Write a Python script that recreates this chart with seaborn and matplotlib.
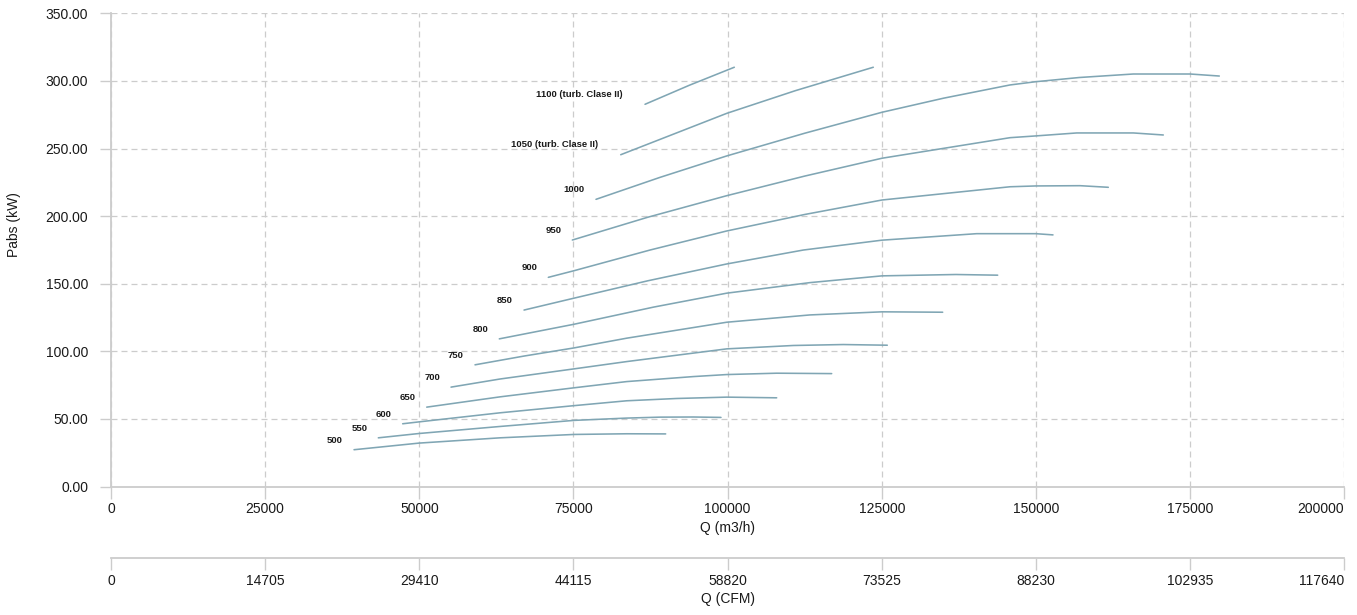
import numpy as np
import pandas as pd
import matplotlib
matplotlib.use("Agg")
import matplotlib.pyplot as plt
import seaborn as sns

sns.set_theme(style="white")
plt.rcParams["font.family"] = ["Liberation Sans", "DejaVu Sans"]
plt.rcParams["lines.scale_dashes"] = False

# ---------------- data (Q in m3/h, Pabs in kW) ----------------
curve_labels = ["500", "550", "600", "650", "700", "750", "800", "850", "900",
                "950", "1000", "1050 (turb. Clase II)", "1100 (turb. Clase II)"]

q_500 = [39410, 49950, 63080, 75080, 83630, 89950]
p_500 = [27.2, 32.1, 36.0, 38.5, 39.0, 38.9]

q_550 = [43350, 49950, 63080, 75080, 83630, 89030, 94430, 98920]
p_550 = [36.0, 39.2, 44.4, 48.9, 50.6, 51.3, 51.4, 51.1]

q_600 = [47300, 49950, 63080, 75080, 83630, 91740, 99850, 107950]
p_600 = [46.4, 47.8, 54.5, 59.8, 63.4, 65.1, 66.1, 65.6]

q_650 = [51200, 63080, 75080, 83630, 94430, 99850, 107950, 116870]
p_650 = [58.7, 66.3, 73.0, 77.6, 81.3, 82.8, 83.8, 83.5]

q_700 = [55140, 63080, 75080, 83630, 99850, 110650, 118750, 125890]
p_700 = [73.5, 79.5, 87.0, 92.4, 101.8, 104.3, 105.0, 104.5]

q_750 = [59030, 67000, 75080, 83630, 99850, 113350, 125030, 134870]
p_750 = [90.0, 96.5, 102.5, 109.7, 121.5, 126.9, 129.2, 128.9]

q_800 = [62970, 75080, 88000, 99850, 113350, 125030, 137000, 143790]
p_800 = [109.2, 120.0, 132.7, 143.0, 150.8, 155.8, 156.8, 156.3]

q_850 = [66980, 75080, 87000, 99850, 112270, 125030, 140380, 149960, 152760]
p_850 = [130.5, 139.3, 152.1, 164.6, 174.9, 182.2, 187.0, 187.0, 186.1]

q_900 = [70920, 75080, 87410, 99850, 112500, 125030, 145790, 149960, 157140, 161730]
p_900 = [154.7, 159.6, 174.9, 189.0, 201.2, 211.9, 221.7, 222.3, 222.5, 221.3]

q_950 = [74810, 87000, 99850, 112500, 125030, 145790, 149960, 156610, 165790, 170650]
p_950 = [182.3, 199.1, 215.1, 229.6, 242.8, 258.0, 259.3, 261.5, 261.5, 260.0]

q_1000 = [78650, 89000, 99850, 112500, 125030, 135000, 145790, 149960, 157000, 165790, 174980, 179730]
p_1000 = [212.4, 228.6, 244.5, 261.3, 276.8, 287.2, 297.0, 299.4, 302.5, 305.1, 305.1, 303.6]

q_1050 = [82660, 99850, 111000, 123620]
p_1050 = [245.4, 276.0, 292.8, 310.1]

q_1100 = [86600, 93800, 101080]
p_1100 = [282.7, 296.8, 310.1]

q_curves = [q_500, q_550, q_600, q_650, q_700, q_750, q_800, q_850, q_900,
            q_950, q_1000, q_1050, q_1100]
p_curves = [p_500, p_550, p_600, p_650, p_700, p_750, p_800, p_850, p_900,
            p_950, p_1000, p_1050, p_1100]

x_ticks = [0, 25000, 50000, 75000, 100000, 125000, 150000, 175000, 200000]
cfm_ticks = [0, 14705, 29410, 44115, 58820, 73525, 88230, 102935, 117640]
y_ticks = [0, 50, 100, 150, 200, 250, 300, 350]

# ---------------- style ----------------
LINE = "#80a6b4"
GRID = "#cccccc"
TXT = "#1a1a1a"
W, H = 1357, 615

fig = plt.figure(figsize=(W / 100, H / 100), dpi=100)
fig.patch.set_facecolor("white")

ax = fig.add_axes([111 / W, 1 - 486.5 / H, 1233.3 / W, 473.2 / H])
ax.set_facecolor("white")

rows = []
for lbl, q, p in zip(curve_labels, q_curves, p_curves):
    for qq, pp in zip(q, p):
        rows.append({"curve": lbl, "Q": qq, "P": pp})
df = pd.DataFrame(rows)

sns.lineplot(data=df, x="Q", y="P", units="curve", estimator=None, sort=False,
             color=LINE, linewidth=1.15, ax=ax, legend=False)

for lbl, q, p in zip(curve_labels, q_curves, p_curves):
    dx = -16 if "(" in lbl else -8
    ax.annotate(lbl, xy=(q[0], p[0]), xytext=(dx, 7), textcoords="offset points",
                ha="right", va="center", fontsize=6.8, fontweight="bold", color=TXT)

ax.set_xlim(0, 200000)
ax.set_ylim(0, 350)
ax.set_xticks(x_ticks, labels=[str(t) for t in x_ticks])
ax.set_yticks(y_ticks, labels=[f"{t:.2f}" for t in y_ticks])
ax.grid(True, color=GRID, linestyle=(0, (4.3, 2.9)), linewidth=0.9)

for s in ["top", "right"]:
    ax.spines[s].set_visible(False)
for s in ["left", "bottom"]:
    ax.spines[s].set_color(GRID)
    ax.spines[s].set_linewidth(1.3)

ax.tick_params(axis="x", bottom=True, color=GRID, length=8.5, width=1,
               labelsize=10, labelcolor=TXT, pad=3)
ax.tick_params(axis="y", left=True, color=GRID, length=8, width=1,
               labelsize=10, labelcolor=TXT, pad=8.5)
ax.xaxis.get_major_ticks()[-1].label1.set_horizontalalignment("right")

ax.set_xlabel("Q (m3/h)", fontsize=10, color=TXT, labelpad=3)
ax.set_ylabel("Pabs (kW)", fontsize=10, color=TXT)
ax.yaxis.set_label_coords(-0.073, 0.5526)

# secondary axis in CFM
ax2 = fig.add_axes([111 / W, 1 - 558.3 / H, 1233.3 / W, 0.0005])
ax2.patch.set_visible(False)
ax2.set_xlim(0, 117640)
ax2.set_ylim(0, 1)
ax2.set_yticks([])
for s in ["top", "right", "left"]:
    ax2.spines[s].set_visible(False)
ax2.spines["bottom"].set_color(GRID)
ax2.spines["bottom"].set_linewidth(1.3)
ax2.set_xticks(cfm_ticks, labels=[str(t) for t in cfm_ticks])
ax2.tick_params(axis="x", bottom=True, color=GRID, length=8.5, width=1,
                labelsize=10, labelcolor=TXT, pad=3)
ax2.xaxis.get_major_ticks()[-1].label1.set_horizontalalignment("right")
ax2.set_xlabel("Q (CFM)", fontsize=10, color=TXT, labelpad=3)

fig.savefig("out.png", dpi=100, facecolor="white")
